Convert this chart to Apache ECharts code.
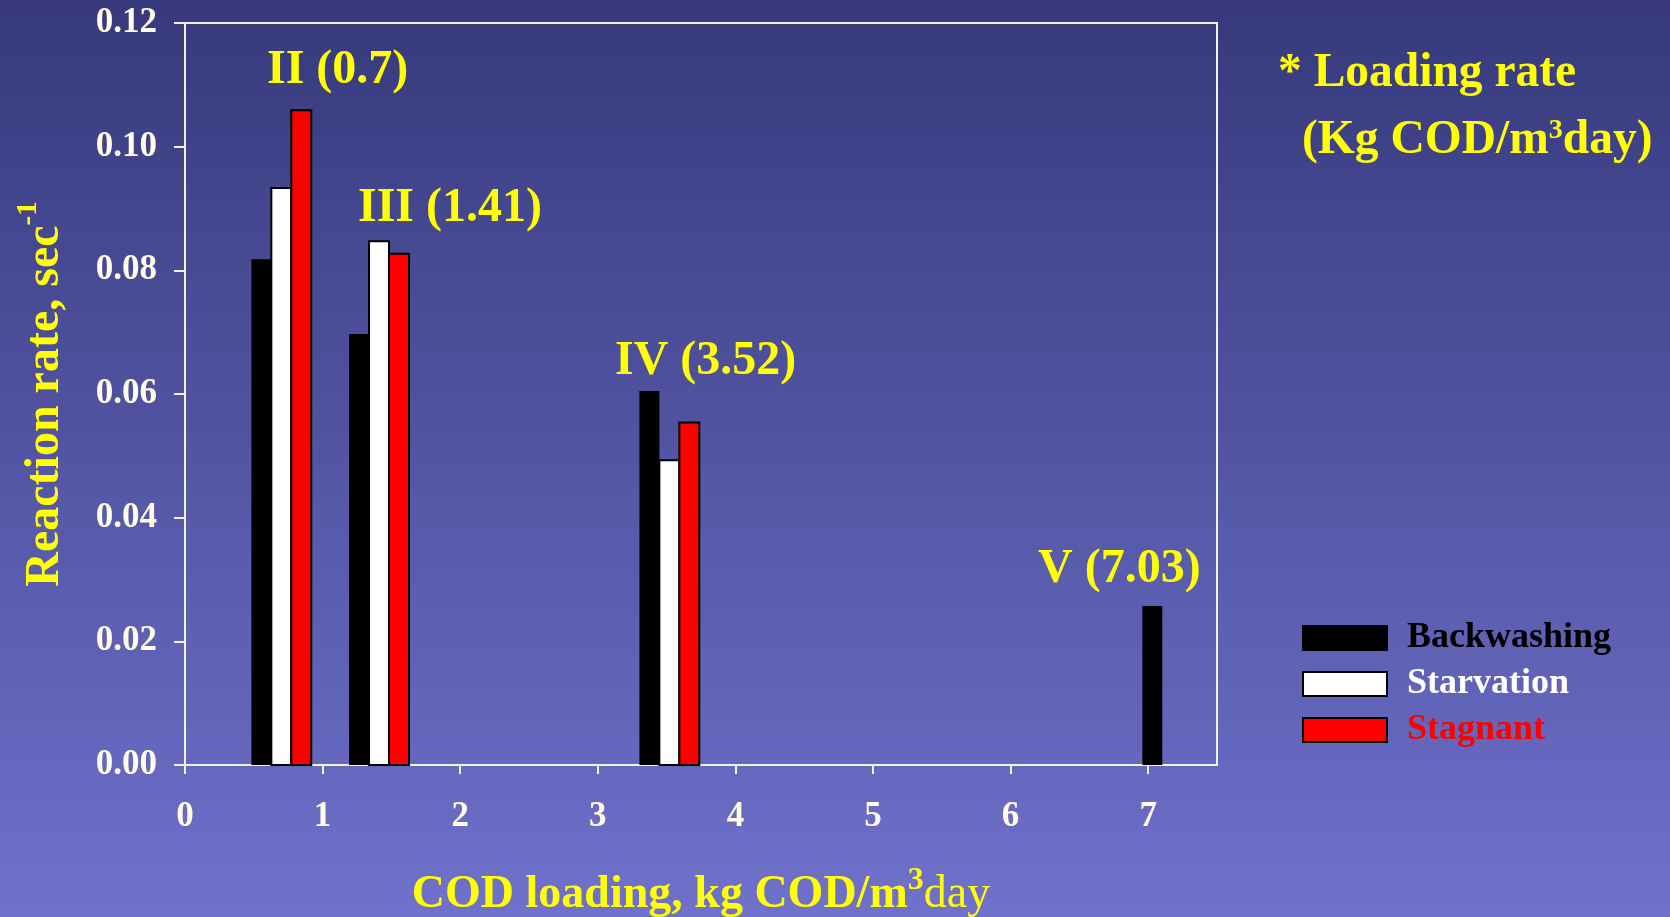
<!DOCTYPE html>
<html>
<head>
<meta charset="utf-8">
<script src="https://cdn.jsdelivr.net/npm/echarts@6/dist/echarts.min.js"></script>
<style>
html,body{margin:0;padding:0;}
#chart{width:1670px;height:917px;}
</style>
</head>
<body>
<div id="chart"></div>
<script>
// ---- data ----
const loadings = [0.7, 1.41, 3.52, 7.03];
const groupLabels = ['II (0.7)', 'III (1.41)', 'IV (3.52)', 'V (7.03)'];
const seriesNames = ['Backwashing', 'Starvation', 'Stagnant'];
const backwashing = [0.0818, 0.0697, 0.0605, 0.0257];
const starvation = [0.0933, 0.0847, 0.0493, null];
const stagnant = [0.1059, 0.0827, 0.0554, null];
const xTicks = [0, 1, 2, 3, 4, 5, 6, 7];

// ---- layout / style ----
const FONT = '"Liberation Serif", "Times New Roman", serif';
const YELLOW = '#ffff00';
const TICKCOL = '#fffbe6';
const AXISCOL = '#f2f2f2';
const barUnit = 0.145;
const fills = ['#000000', '#ffffff', '#ff0000'];
const strokes = [null, '#000000', '#000000'];
const legendTextColors = ['#000000', '#ffffff', '#ff0000'];
const labelPos = [[267, 71], [358, 209], [615, 362], [1038, 570]];

const allSeries = [backwashing, starvation, stagnant];

const chart = echarts.init(document.getElementById('chart'));

function makeSeries(si) {
  const vals = allSeries[si];
  const data = [];
  loadings.forEach((x, i) => { if (vals[i] != null) data.push([x, vals[i], i]); });
  return {
    type: 'custom',
    name: seriesNames[si],
    itemStyle: { color: fills[si], borderColor: '#000', borderWidth: 2 },
    data: data,
    renderItem: function (params, api) {
      const x = api.value(0), y = api.value(1), gi = api.value(2);
      const present = [];
      allSeries.forEach((a, k) => { if (a[gi] != null) present.push(k); });
      const pos = present.indexOf(si);
      const n = present.length;
      const w = api.size([barUnit, 0])[0];
      const base = api.coord([x, 0]);
      const top = api.coord([x, y]);
      const cx = base[0] + (pos - (n - 1) / 2) * w;
      return {
        type: 'rect',
        shape: { x: cx - w / 2, y: top[1], width: w, height: base[1] - top[1] },
        style: strokes[si] ? { fill: fills[si], stroke: strokes[si], lineWidth: 2 } : { fill: fills[si] }
      };
    }
  };
}

const graphics = groupLabels.map((t, i) => ({
  type: 'text',
  x: labelPos[i][0], y: labelPos[i][1],
  style: { text: t, fill: YELLOW, font: 'bold 48px ' + FONT, align: 'left', verticalAlign: 'middle', textAlign: 'left', textVerticalAlign: 'middle' }
}));
graphics.push({
  type: 'text', x: 1278, y: 74,
  style: { text: '* Loading rate', fill: YELLOW, font: 'bold 47.5px ' + FONT, align: 'left', verticalAlign: 'middle', textAlign: 'left', textVerticalAlign: 'middle' }
});
graphics.push({
  type: 'text', x: 1302, y: 141,
  style: {
    text: '(Kg COD/m{sup|3}day)', fill: YELLOW, font: 'bold 47.5px ' + FONT,
    fontSize: 47.5, fontWeight: 'bold', fontFamily: FONT,
    align: 'left', verticalAlign: 'middle', textAlign: 'left', textVerticalAlign: 'middle',
    rich: { sup: { fontSize: 28, fontWeight: 'bold', fontFamily: FONT, fill: YELLOW, verticalAlign: 'top' } }
  }
});

const option = {
  animation: false,
  backgroundColor: {
    type: 'linear', x: 0, y: 0, x2: 0, y2: 1,
    colorStops: [{ offset: 0, color: '#37397c' }, { offset: 1, color: '#6f71cc' }]
  },
  grid: { left: 185, right: 453, top: 23, bottom: 152, show: true, borderColor: AXISCOL, borderWidth: 2, backgroundColor: 'transparent', containLabel: false, outerBoundsMode: 'none' },
  xAxis: {
    type: 'value', min: 0, max: 7.5, interval: 1,
    name: 'COD loading, kg COD/m{sup|3}{reg|day}',
    nameLocation: 'middle', nameGap: 100,
    nameTextStyle: {
      color: YELLOW, fontSize: 46, fontWeight: 'bold', fontFamily: FONT, lineHeight: 60,
      rich: {
        sup: { color: YELLOW, fontSize: 32, fontWeight: 'bold', fontFamily: FONT, verticalAlign: 'top', lineHeight: 32 },
        reg: { color: YELLOW, fontSize: 46, fontWeight: 'normal', fontFamily: FONT, lineHeight: 60 }
      }
    },
    axisLine: { show: true, lineStyle: { color: AXISCOL, width: 2 } },
    axisTick: { show: true, length: 9, lineStyle: { color: AXISCOL, width: 2 }, customValues: xTicks },
    splitLine: { show: false },
    axisLabel: { color: TICKCOL, fontSize: 35, fontWeight: 'bold', fontFamily: FONT, margin: 34, customValues: xTicks }
  },
  yAxis: {
    type: 'value', min: 0, max: 0.12, interval: 0.02,
    name: 'Reaction rate, sec{sup|-1}',
    nameLocation: 'middle', nameGap: 107, nameRotate: 90,
    nameTextStyle: {
      color: YELLOW, fontSize: 48, fontWeight: 'bold', fontFamily: FONT, lineHeight: 64,
      rich: { sup: { color: YELLOW, fontSize: 29, fontWeight: 'bold', fontFamily: FONT, verticalAlign: 'top', lineHeight: 29 } }
    },
    axisLine: { show: true, lineStyle: { color: AXISCOL, width: 2 } },
    axisTick: { show: true, length: 11, lineStyle: { color: AXISCOL, width: 2 } },
    splitLine: { show: false },
    axisLabel: { color: TICKCOL, fontSize: 35, fontWeight: 'bold', fontFamily: FONT, margin: 28, formatter: v => v.toFixed(2) }
  },
  legend: {
    orient: 'vertical', left: 1302, top: 620, padding: 0,
    itemWidth: 84, itemHeight: 24, itemGap: 10, icon: 'rect',
    textStyle: { fontSize: 36, fontWeight: 'bold', fontFamily: FONT, padding: [0, 0, 0, 15] },
    data: seriesNames.map((n, i) => ({
      name: n,
      itemStyle: { color: fills[i], borderColor: '#000', borderWidth: 2 },
      textStyle: { color: legendTextColors[i], fontSize: 36, fontWeight: 'bold', fontFamily: FONT, padding: [0, 0, 0, 15] }
    }))
  },
  graphic: graphics,
  series: [0, 1, 2].map(makeSeries)
};
chart.setOption(option);
</script>
</body>
</html>
